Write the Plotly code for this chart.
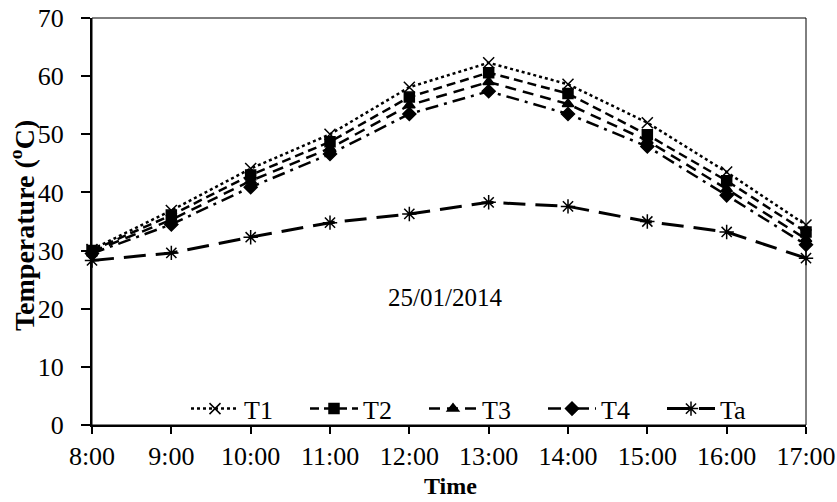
import plotly.graph_objects as go

times = ["8:00", "9:00", "10:00", "11:00", "12:00", "13:00", "14:00", "15:00", "16:00", "17:00"]
T1 = [30.2, 36.9, 44.1, 50.0, 58.1, 62.3, 58.6, 52.0, 43.5, 34.4]
T2 = [30.0, 36.1, 43.0, 48.7, 56.4, 60.6, 57.0, 49.9, 42.0, 33.2]
T3 = [29.8, 35.3, 42.0, 47.6, 55.0, 59.0, 55.2, 48.9, 40.6, 32.0]
T4 = [29.5, 34.5, 40.9, 46.6, 53.5, 57.4, 53.5, 47.9, 39.5, 31.0]
Ta = [28.3, 29.6, 32.3, 34.8, 36.3, 38.3, 37.6, 35.0, 33.2, 28.7]

series = [
    ("T1", T1, "3px,3px", "x-thin-open", 11, 2.5),
    ("T2", T2, "9px,5px", "square", 10, 2.5),
    ("T3", T3, "11px,7px", "triangle-up", 10, 2.5),
    ("T4", T4, "13px,6px,3px,6px", "diamond", 10, 2.5),
    ("Ta", Ta, "22px,10px", "asterisk-open", 12, 3),
]

FONT = "Liberation Serif"

fig = go.Figure()
for name, vals, dash, sym, size, lw in series:
    fig.add_trace(go.Scatter(
        x=times, y=vals, name=name, mode="lines+markers", cliponaxis=False,
        line=dict(color="black", width=lw, dash=dash),
        marker=dict(symbol=sym, size=size, color="black",
                    line=dict(color="black", width=1.5)),
    ))

fig.update_layout(
    width=837, height=502,
    margin=dict(l=92, r=31, t=18, b=77),
    plot_bgcolor="white", paper_bgcolor="white",
    font=dict(family=FONT, size=26, color="black"),
    showlegend=True,
    legend=dict(orientation="h", x=(186 - 92) / 714, xanchor="left", y=0.04, yanchor="middle",
                font=dict(family=FONT, size=26), bgcolor="rgba(0,0,0,0)",
                entrywidth=56, itemwidth=48),
    xaxis=dict(
        type="category", range=[0, 9], automargin=False,
        showline=True, linecolor="black", linewidth=2,
        ticks="outside", ticklen=7, tickwidth=1.5, tickcolor="black",
        showgrid=False, zeroline=False,
        tickfont=dict(family=FONT, size=26),
    ),
    yaxis=dict(
        range=[0, 70], dtick=10, automargin=False,
        showline=True, linecolor="black", linewidth=2,
        ticks="outside", ticklen=9, tickwidth=1.5, tickcolor="black",
        ticklabelstandoff=12,
        showgrid=False, zeroline=False,
        tickfont=dict(family=FONT, size=26),
    ),
    annotations=[
        dict(text="25/01/2014", xref="paper", yref="paper",
             x=(445 - 92) / 714, y=(425 - 297) / 407, xanchor="center", yanchor="middle",
             showarrow=False, font=dict(family=FONT, size=25)),
        dict(text="<b>Time</b>", xref="paper", yref="paper",
             x=(450 - 92) / 714, y=(425 - 486) / 407, xanchor="center", yanchor="middle",
             showarrow=False, font=dict(family=FONT, size=24)),
        dict(text="<b>Temperature (<sup>o</sup>C)</b>", xref="paper", yref="paper",
             x=(22 - 92) / 714, y=(425 - 226) / 407, xanchor="center", yanchor="middle",
             textangle=-90, showarrow=False, font=dict(family=FONT, size=28)),
    ],
    shapes=[dict(type="rect", xref="paper", yref="paper", x0=0, y0=0, x1=1, y1=1,
                 line=dict(color="black", width=1), layer="below")],
)

fig.write_html("out.html", config={"displayModeBar": False},
               post_script="document.body.style.margin='0px';document.body.style.overflow='hidden';")
